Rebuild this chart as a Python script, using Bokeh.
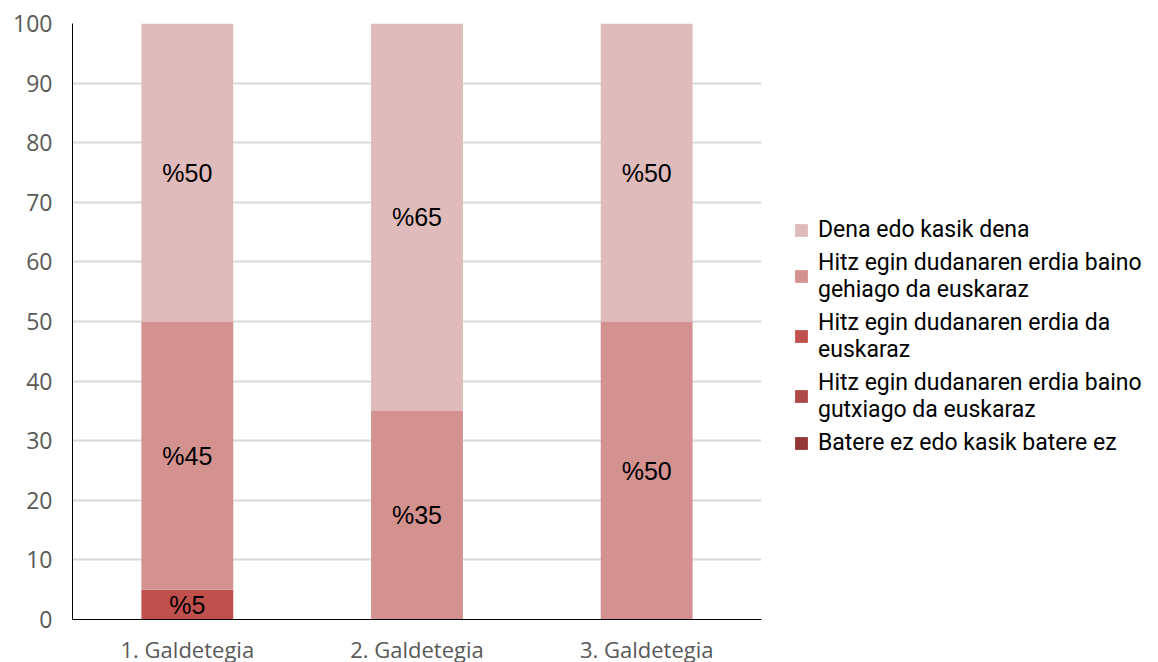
from bokeh.plotting import figure
from bokeh.models import FactorRange, Range1d, FixedTicker, Legend, LegendItem, ColumnDataSource
from bokeh.core.properties import value
from bokeh.embed import file_html
from bokeh.resources import INLINE

categories = ["1. Galdetegia", "2. Galdetegia", "3. Galdetegia"]

# series in stacking order (bottom to top)
series_names = [
    "Batere ez edo kasik batere ez",
    "Hitz egin dudanaren erdia baino\ngutxiago da euskaraz",
    "Hitz egin dudanaren erdia da\neuskaraz",
    "Hitz egin dudanaren erdia baino\ngehiago da euskaraz",
    "Dena edo kasik dena",
]
batere = [0, 0, 0]
gutxiago = [0, 0, 0]
erdia = [5, 0, 0]
gehiago = [45, 35, 50]
dena = [50, 65, 50]
colors = ["#943634", "#AD4947", "#C0504D", "#D39190", "#E0BBBB"]
y_ticks = [0, 10, 20, 30, 40, 50, 60, 70, 80, 90, 100]

series_values = [batere, gutxiago, erdia, gehiago, dena]
keys = ["s%d" % i for i in range(len(series_values))]

data = {"cat": categories}
for k, v in zip(keys, series_values):
    data[k] = v
source = ColumnDataSource(data)

p = figure(
    x_range=FactorRange(factors=categories, range_padding=0),
    y_range=Range1d(0, 100),
    frame_width=689, frame_height=596,
    min_border_left=72, min_border_right=397, min_border_top=23, min_border_bottom=43,
    output_backend="svg", toolbar_location=None,
)

renderers = p.vbar_stack(keys, x="cat", width=0.4, color=colors, line_color=None, source=source)

# data labels
lx, ly, lt = [], [], []
for ci, c in enumerate(categories):
    base = 0
    for v in series_values:
        if v[ci] > 0:
            lx.append(c)
            ly.append(base + v[ci] / 2)
            lt.append("%" + str(v[ci]))
        base += v[ci]
p.text(x=lx, y=ly, text=lt, text_align="center", text_baseline="middle",
       text_font=value("Liberation Sans"), text_font_size="25px", text_color="#000000")

# legend (top item = top of stack)
items = [LegendItem(label=n, renderers=[r]) for n, r in zip(series_names, renderers)][::-1]
legend = Legend(items=items, location=(32, 163), padding=0, margin=0,
                spacing=6, glyph_width=16, glyph_height=16, label_standoff=9,
                label_text_font="Roboto", label_text_font_size="23px",
                label_text_color="#000000",
                border_line_color=None, background_fill_alpha=0)
p.add_layout(legend, "right")

p.yaxis.ticker = FixedTicker(ticks=y_ticks)
for ax in (p.xaxis, p.yaxis):
    ax.major_tick_line_color = None
    ax.minor_tick_line_color = None
    ax.axis_line_color = "#000000"
    ax.axis_line_width = 1
    ax.major_label_text_font = "Open Sans"
    ax.major_label_text_color = "#595959"
p.yaxis.major_label_text_font_size = "23px"
p.xaxis.major_label_text_font_size = "22px"
p.yaxis.major_label_standoff = 14
p.xaxis.major_label_standoff = 8

p.xgrid.grid_line_color = None
p.ygrid.grid_line_color = "#D9D9D9"
p.ygrid.grid_line_width = 2
p.outline_line_color = None
p.background_fill_color = "#FFFFFF"
p.border_fill_color = "#FFFFFF"

open("out.html", "w").write(file_html(p, INLINE))
